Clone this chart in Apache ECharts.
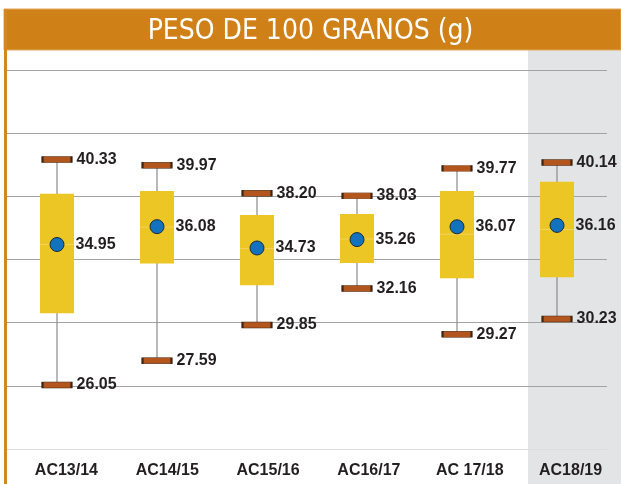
<!DOCTYPE html>
<html>
<head>
<meta charset="utf-8">
<script src="https://cdn.jsdelivr.net/npm/echarts@6/dist/echarts.min.js"></script>
<style>
  html, body { margin: 0; padding: 0; background: #fff; }
  #chart { width: 621px; height: 484px; }
</style>
</head>
<body>
<div id="chart"></div>
<script>
  // datos
  var categories = ['AC13/14', 'AC14/15', 'AC15/16', 'AC16/17', 'AC 17/18', 'AC18/19'];
  var maxValues = [40.33, 39.97, 38.20, 38.03, 39.77, 40.14];
  var q3Values = [38.16, 38.34, 36.82, 36.88, 38.34, 38.92];
  var medianValues = [34.95, 36.05, 34.70, 35.30, 35.60, 35.90];
  var q1Values = [30.60, 33.74, 32.37, 33.78, 32.81, 32.87];
  var minValues = [26.05, 27.59, 29.85, 32.16, 29.27, 30.23];
  var meanValues = [34.95, 36.08, 34.73, 35.26, 36.07, 36.16];
  var yTicks = { min: 22, max: 46, interval: 4 };

  var boxData = categories.map(function (c, i) {
    return [i, minValues[i], q1Values[i], medianValues[i], q3Values[i], maxValues[i]];
  });

  var labelFont = 'Liberation Sans, Arial, sans-serif';
  var narrowFont = '"Liberation Sans Narrow", "DejaVu Sans Condensed", "Liberation Sans", sans-serif';

  var valueLabel = {
    show: true,
    position: 'right',
    distance: 4,
    formatter: function (p) { return p.value.toFixed(2); },
    color: '#231f20',
    fontFamily: labelFont,
    fontWeight: 'bold',
    fontSize: 16
  };

  var myChart = echarts.init(document.getElementById('chart'));
  var option = {
    animation: false,
    backgroundColor: '#ffffff',
    title: {
      text: 'PESO DE 100 GRANOS (g)',
      left: 'center',
      top: 13,
      textStyle: {
        color: '#ffffff',
        fontFamily: narrowFont,
        fontWeight: 'normal',
        fontSize: 28
      }
    },
    graphic: [
      // franja gris de la ultima campaña
      { type: 'rect', z: -10, shape: { x: 528, y: 50, width: 93, height: 434 }, style: { fill: '#e3e4e6' } },
      // barra del titulo
      { type: 'rect', z: -5, shape: { x: 4, y: 9, width: 617, height: 41 }, style: { fill: '#cf8118', stroke: '#e0a75a', lineWidth: 1 } },
      // borde izquierdo
      { type: 'rect', z: -5, shape: { x: 4, y: 9, width: 3, height: 475 }, style: { fill: '#d4861f' } }
    ],
    grid: [
      { left: 7, right: 14, top: 70, bottom: 35 },
      // las etiquetas de campaña van un poco desplazadas a la derecha
      { left: 16, right: -6, top: 70, bottom: 35 }
    ],
    xAxis: [
      {
        type: 'category',
        gridIndex: 0,
        data: categories,
        axisLine: { show: false },
        axisTick: { show: false },
        axisLabel: { show: false }
      },
      {
        type: 'category',
        gridIndex: 1,
        data: categories,
        axisLine: { show: false },
        axisTick: { show: false },
        axisLabel: {
          margin: 14,
          color: '#231f20',
          fontFamily: labelFont,
          fontWeight: 'bold',
          fontSize: 16
        }
      }
    ],
    yAxis: [
      {
        type: 'value',
        gridIndex: 0,
        min: yTicks.min,
        max: yTicks.max,
        interval: yTicks.interval,
        axisLine: { show: false },
        axisTick: { show: false },
        axisLabel: { show: false },
        splitLine: {
          lineStyle: {
            color: ['#dcdcdc', '#a3a3a3', '#a3a3a3', '#a3a3a3', '#a3a3a3', '#a3a3a3', '#a3a3a3'],
            width: 1.2
          }
        }
      },
      {
        type: 'value',
        gridIndex: 1,
        show: false,
        min: yTicks.min,
        max: yTicks.max,
        splitLine: { show: false }
      }
    ],
    series: [
      {
        name: 'caja',
        type: 'custom',
        z: 2,
        data: boxData,
        encode: { x: 0, y: [1, 2, 3, 4, 5] },
        renderItem: function (params, api) {
          var cx = api.value(0);
          var lo = api.coord([cx, api.value(1)]);
          var q1 = api.coord([cx, api.value(2)]);
          var md = api.coord([cx, api.value(3)]);
          var q3 = api.coord([cx, api.value(4)]);
          var hi = api.coord([cx, api.value(5)]);
          var bw = api.size([1, 0])[0] * 0.34;
          return {
            type: 'group',
            children: [
              {
                type: 'line',
                shape: { x1: hi[0], y1: hi[1], x2: lo[0], y2: lo[1] },
                style: { stroke: '#8a8a8a', lineWidth: 1.2 }
              },
              {
                type: 'rect',
                shape: { x: q3[0] - bw / 2, y: q3[1], width: bw, height: q1[1] - q3[1] },
                style: { fill: '#ebc625' }
              },
              {
                type: 'line',
                shape: { x1: md[0] - bw / 2, y1: md[1], x2: md[0] + bw / 2, y2: md[1] },
                style: { stroke: '#f0d35e', lineWidth: 1 }
              }
            ]
          };
        }
      },
      {
        name: 'maximo',
        type: 'scatter',
        z: 3,
        data: maxValues,
        symbol: 'rect',
        symbolSize: [29, 6],
        itemStyle: { color: '#b3561e', borderColor: '#3d2412', borderWidth: 1, opacity: 1 },
        label: valueLabel
      },
      {
        name: 'minimo',
        type: 'scatter',
        z: 3,
        data: minValues,
        symbol: 'rect',
        symbolSize: [29, 6],
        itemStyle: { color: '#b3561e', borderColor: '#3d2412', borderWidth: 1, opacity: 1 },
        label: valueLabel
      },
      {
        name: 'media',
        type: 'scatter',
        z: 4,
        data: meanValues,
        symbol: 'circle',
        symbolSize: 14,
        itemStyle: { color: '#1272be', borderColor: '#1c2b3c', borderWidth: 1, opacity: 1 },
        label: Object.assign({}, valueLabel, { distance: 11 })
      }
    ]
  };
  myChart.setOption(option);
</script>
</body>
</html>
